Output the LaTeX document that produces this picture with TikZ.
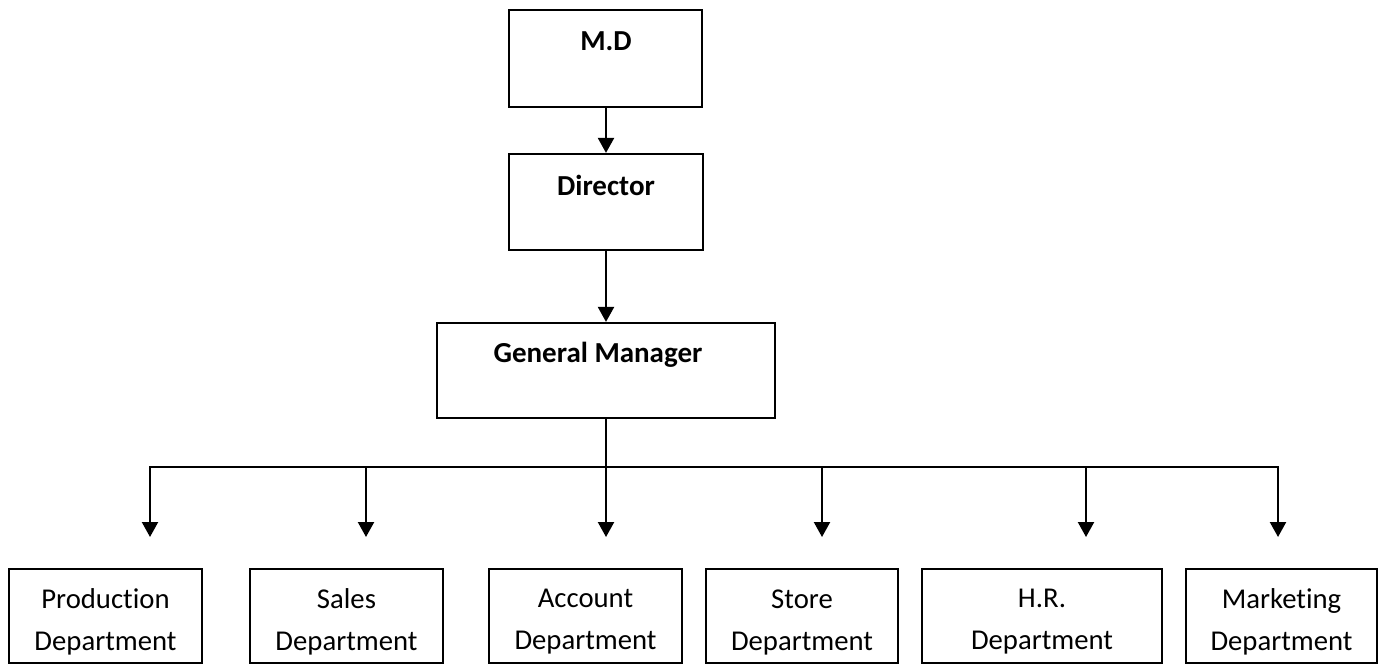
\documentclass[tikz,border=0pt]{standalone}
\usepackage{fontspec}
\setmainfont{Carlito}[Ligatures=NoCommon]
\usetikzlibrary{arrows.meta}
\begin{document}
\begin{tikzpicture}[x=1pt,y=-1pt,
  box/.style={draw=black, line width=2.2pt, inner sep=0pt},
  toptext/.style={font=\fontsize{29}{34}\selectfont\bfseries, anchor=base, inner sep=0pt},
  deptext/.style={font=\fontsize{28.7}{42}\selectfont, align=center, inner sep=0pt},
  conn/.style={line width=2.2pt},
  arr/.style={line width=2.2pt, -{Triangle[length=15pt,width=16pt]}}]
\useasboundingbox (0,0) rectangle (1380,666);
% top boxes
\node[box, minimum width=193pt, minimum height=97pt] (md) at (605.5,58.5) {};
\node[toptext] (mdt) at (606,51) {M.D};
\node[box, minimum width=194pt, minimum height=96pt] (dir) at (606,202) {};
\node[toptext] (dirt) at (606,195) {Director};
\node[box, minimum width=338pt, minimum height=95pt] (gm) at (606,370.5) {};
\node[toptext] (gmt) at (598,362) {General Manager};
% department boxes
\node[box, minimum width=193pt, minimum height=94pt] (p) at (105.5,616) {};
\node[deptext] (pt) at (105.5,622) {Production\\Department};
\node[box, minimum width=193pt, minimum height=94pt] (s) at (346.5,616) {};
\node[deptext] (st) at (346.5,622) {Sales\\Department};
\node[box, minimum width=193pt, minimum height=94pt] (a) at (585.5,616) {};
\node[deptext] (at) at (585.5,622) {Account\\Department};
\node[box, minimum width=192pt, minimum height=94pt] (so) at (802,616) {};
\node[deptext] (sot) at (802,622) {Store\\Department};
\node[box, minimum width=240pt, minimum height=94pt] (h) at (1042,616) {};
\node[deptext] (ht) at (1042,622) {H.R.\\Department};
\node[box, minimum width=191pt, minimum height=94pt] (m) at (1281.5,616) {};
\node[deptext] (mt) at (1281.5,622) {Marketing\\Department};
% connectors
\draw[arr] (md.south -| 606,0) -- (dir.north -| 606,0);
\draw[arr] (dir.south) -- (gm.north);
\coordinate (bus) at (606,467);
\draw[conn] (gm.south) -- (bus);
\foreach \i/\x in {1/150,2/366,3/606,4/822,5/1086,6/1278}{
  \coordinate (b\i) at (\x,467);
  \coordinate (t\i) at (\x,537);
}
\draw[conn, line cap=rect] (b1) -- (b6);
\foreach \i in {1,...,6}{\draw[arr] (b\i) -- (t\i);}
\end{tikzpicture}
\end{document}
